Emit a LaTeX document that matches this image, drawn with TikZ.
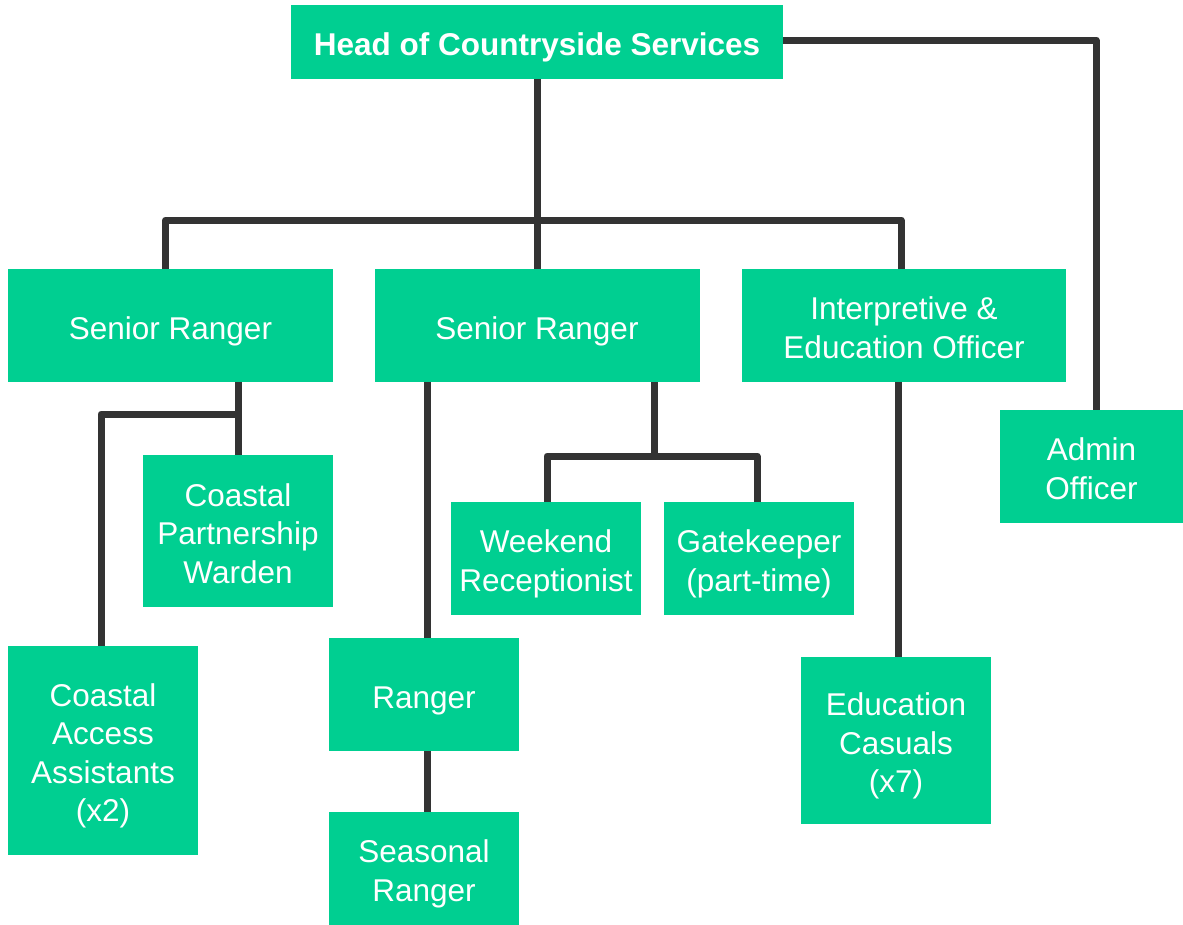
\documentclass[tikz,border=0pt]{standalone}
\usepackage{fontspec}
\setmainfont{Liberation Sans}
\usetikzlibrary{backgrounds}
\definecolor{boxgreen}{HTML}{00CF91}
\definecolor{linkgray}{HTML}{333333}
% invisible struts that give every first line the same height
% and every last line the same depth
\newcommand\topstrut{\rule{0pt}{34pt}}
\newcommand\botstrut{\rule[-7pt]{0pt}{7pt}}
\tikzset{
  post/.style={fill=boxgreen, text=white, align=center, inner sep=0pt,
    font=\fontsize{31.5}{38.5}\selectfont},
  link/.style={draw=linkgray, line width=7pt, line join=round, line cap=round}
}
\begin{document}
\begin{tikzpicture}[x=1pt,y=-1pt]
\useasboundingbox (0,0) rectangle (1183,924);

% posts
\node[post, minimum width=492pt, minimum height=74pt, font=\fontsize{31.5}{38.5}\selectfont\bfseries]
  (head) at (537,42) {\topstrut Head of Countryside Services\botstrut};
\node[post, minimum width=325pt, minimum height=113pt] (sr1) at (170.5,325.5) {\topstrut Senior Ranger\botstrut};
\node[post, minimum width=325pt, minimum height=113pt] (sr2) at (537,325.5) {\topstrut Senior Ranger\botstrut};
\node[post, minimum width=324pt, minimum height=113pt] (interp) at (904,325.5) {\topstrut Interpretive \&\\Education Officer\botstrut};
\node[post, minimum width=183pt, minimum height=113pt] (admin) at (1091.5,466.5) {\topstrut Admin\\Officer\botstrut};
\node[post, minimum width=190pt, minimum height=152pt] (cpw) at (238,531) {\topstrut Coastal\\Partnership\\Warden\botstrut};
\node[post, minimum width=190pt, minimum height=209pt] (caa) at (103,750.5) {\topstrut Coastal\\Access\\Assistants\\(x2)\botstrut};
\node[post, minimum width=190pt, minimum height=113pt] (wr) at (546,558.5) {\topstrut Weekend\\Receptionist\botstrut};
\node[post, minimum width=190pt, minimum height=113pt] (gk) at (759,558.5) {\topstrut Gatekeeper\\(part-time)\botstrut};
\node[post, minimum width=190pt, minimum height=113pt] (ranger) at (424,694.5) {\topstrut Ranger\botstrut};
\node[post, minimum width=190pt, minimum height=113pt] (seas) at (424,868.5) {\topstrut Seasonal\\Ranger\botstrut};
\node[post, minimum width=190pt, minimum height=167pt] (ec) at (896,740.5) {\topstrut Education\\Casuals\\(x7)\botstrut};

% junction points
\coordinate (bus) at (537,220);
\coordinate (sr1j) at (238,414);
\coordinate (sr2j) at (654,456);

% connectors, drawn behind the posts
\begin{scope}[on background layer]
  % head of service to the three senior posts and admin
  \draw[link] (head.south) -- (sr2.north);
  \draw[link] ([xshift=-5pt]sr1.north) |- (bus) -| ([xshift=-3pt]interp.north);
  \draw[link] ([yshift=2pt]head.east) -| ([xshift=4.5pt]admin.north);
  % first senior ranger
  \draw[link] (cpw.north) -- (cpw.north |- sr1.south);
  \draw[link] (sr1j) -| ([xshift=-2pt]caa.north);
  % second senior ranger
  \draw[link] ([xshift=3pt]ranger.north) -- ([xshift=3pt]ranger.north |- sr2.south);
  \draw[link] ([xshift=3pt]ranger.south) -- ([xshift=3pt]seas.north);
  \draw[link] (sr2j) -- (sr2j |- sr2.south);
  \draw[link] ([xshift=1pt]wr.north) |- (sr2j) -| ([xshift=-2pt]gk.north);
  % interpretive officer
  \draw[link] ([xshift=2pt]ec.north) -- ([xshift=2pt]ec.north |- interp.south);
\end{scope}
\end{tikzpicture}
\end{document}
